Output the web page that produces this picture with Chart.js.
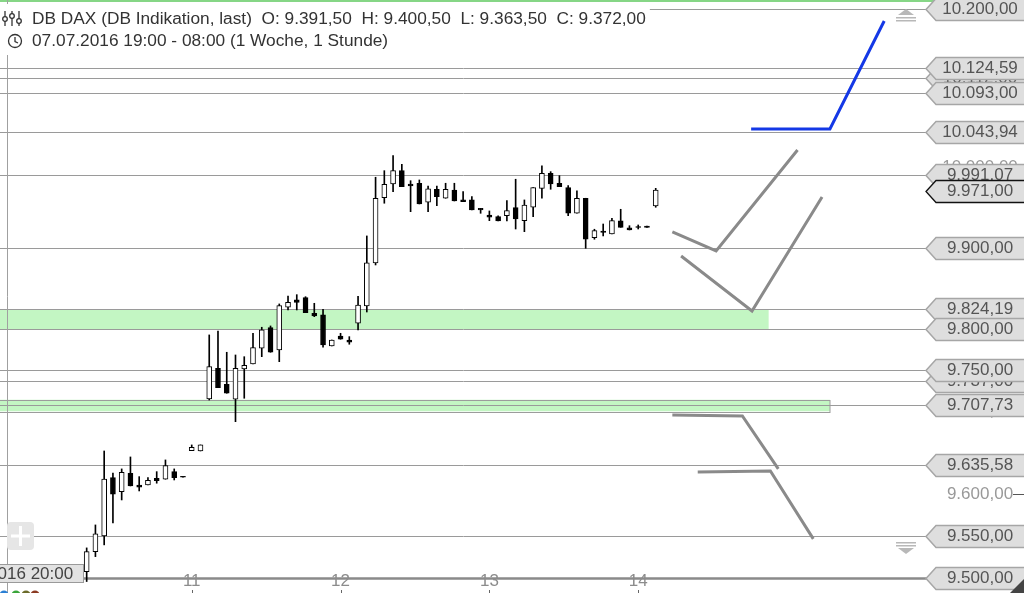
<!DOCTYPE html>
<html lang="de">
<head>
<meta charset="UTF-8">
<title>DB DAX</title>
<script src="https://cdn.jsdelivr.net/npm/chart.js"></script>
<style>
    html, body { margin: 0; padding: 0; background: #fff; }
    #wrap { width: 1024px; height: 593px; }
</style>
</head>
<body>
<div id="wrap"><canvas id="chart" width="1024" height="593"></canvas></div>
<script>
    // hourly candles (one slot per trading hour)
    const opens  = [9507.6, 9531.4, 9550.1, 9619.9, 9603.1, 9625.2, 9611.1, 9611.1, 9619.2, 9618.0, 9627.1, 9621.5, 9652.4, 9652.0,
                    9714.9, 9752.3, 9732.8, 9714.6, 9751.4, 9757.5, 9776.7, 9801.9, 9774.6, 9826.9, 9835.9, 9838.7, 9819.5, 9817.5, 9779.5, 9791.7,
                    9786.8, 9807.3, 9828.5, 9881.5, 9962.4, 9979.5, 9996.1, 9979.5, 9980.4, 9956.7, 9972.9, 9961.7, 9972.0, 9959.6, 9959.6, 9949.2,
                    9940.9, 9938.8, 9940.0, 9950.0, 9933.8, 9950.5, 9974.1, 9992.9, 9980.4, 9974.9, 9943.0, 9961.7, 9912.7, 9921.0, 9917.3, 9933.5,
                    9925.1, 9926.4, 9927.2, 9952.1];
    const highs  = [9535.8, 9563.2, 9652.0, 9625.5, 9630.4, 9644.8, 9621.1, 9619.9, 9627.1, 9641.2, 9630.4, 9621.5, 9659.3, 9659.3,
                    9793.0, 9797.8, 9771.8, 9768.5, 9766.4, 9795.0, 9802.4, 9804.0, 9831.0, 9840.8, 9842.4, 9839.9, 9831.8, 9824.5, 9786.8, 9795.0,
                    9790.9, 9840.2, 9914.9, 9987.9, 9996.1, 10014.9, 10004.1, 9983.6, 9984.5, 9977.0, 9977.0, 9980.4, 9980.4, 9969.9, 9963.7, 9949.2,
                    9945.9, 9940.0, 9958.7, 9985.4, 9959.6, 9974.9, 10002.3, 9994.9, 9989.9, 9977.4, 9971.1, 9961.7, 9923.2, 9929.7, 9936.8, 9948.0,
                    9927.6, 9928.5, 9927.2, 9974.1];
    const lows   = [9495.8, 9525.4, 9539.4, 9565.6, 9593.1, 9609.9, 9603.9, 9611.1, 9613.2, 9618.0, 9617.1, 9620.5, 9652.4, 9652.0,
                    9713.7, 9728.7, 9721.9, 9687.4, 9715.8, 9757.5, 9766.4, 9771.8, 9760.3, 9823.6, 9823.6, 9820.3, 9815.4, 9777.9, 9779.5, 9787.7,
                    9781.6, 9799.1, 9821.1, 9879.0, 9955.5, 9969.9, 9976.1, 9945.0, 9954.6, 9945.0, 9952.5, 9961.7, 9958.3, 9957.5, 9947.1, 9943.0,
                    9933.8, 9933.5, 9933.5, 9923.5, 9920.2, 9938.8, 9961.7, 9972.9, 9976.1, 9940.0, 9943.0, 9899.6, 9910.8, 9914.9, 9917.3, 9925.6,
                    9922.3, 9923.5, 9925.6, 9950.5];
    const closes = [9531.4, 9552.5, 9618.3, 9600.0, 9626.4, 9609.9, 9608.4, 9616.8, 9616.3, 9634.3, 9619.9, 9620.5, 9656.5, 9659.3,
                    9754.2, 9728.7, 9721.9, 9752.3, 9755.9, 9777.4, 9799.1, 9771.8, 9828.9, 9833.0, 9833.0, 9820.3, 9816.2, 9780.7, 9786.8, 9787.7,
                    9784.0, 9829.7, 9881.5, 9961.7, 9979.1, 9996.1, 9976.1, 9977.0, 9954.6, 9973.3, 9963.7, 9972.9, 9958.3, 9957.5, 9947.1, 9947.1,
                    9938.1, 9933.5, 9946.3, 9935.9, 9953.3, 9974.9, 9992.9, 9979.5, 9976.1, 9943.0, 9961.7, 9910.8, 9921.4, 9919.4, 9933.8, 9925.6,
                    9922.3, 9925.6, 9925.6, 9972.0];

    // day labels on the time axis and the slot where each day starts
    const dayLabels = ['11', '12', '13', '14'];
    const daySlots = [12, 29, 46, 63];

    // visible range
    const slotMin = -9.9, slotMax = 95.76;
    const yMin = 9482.2, yMax = 10211.6;

    // horizontal levels drawn across the chart
    const levels = [10200, 10124.59, 10112, 10093, 10043.94, 9991.07, 9900, 9824.19, 9800, 9750, 9737, 9707.73, 9635.58, 9550, 9500];
    // price tags on the right (first two are mostly hidden)
    const tagValues = [10112, 9737, 10200, 10124.59, 10093, 10043.94, 9991.07, 9971, 9900, 9824.19, 9800, 9750, 9707.73, 9635.58, 9550, 9500];
    const lastPrice = 9971;
    // plain axis ticks
    const axisTicks = [10200, 10100, 10000, 9900, 9800, 9700, 9600, 9500];

    // support zones: [low, high, end slot]
    const zones = [[9800, 9824.19, 77.9], [9700, 9714, 84.9]];

    // hand-drawn scenario lines
    const blueX = [75.9, 84.9, 91.1],  blueY = [10048.3, 10048.3, 10184.8];
    const grayAX = [66.9, 71.9, 81.2], grayAY = [9919.8, 9896.3, 10022.0];
    const grayBX = [67.9, 76.0, 84.0], grayBY = [9890.1, 9822.4, 9963.3];
    const grayCX = [66.9, 74.9, 79.0], grayCY = [9695.6, 9694.3, 9630.4];
    const grayDX = [69.8, 78.1, 83.0], grayDY = [9626.8, 9627.9, 9546.5];

    const crossSlot = -9.1;
    const crossLabel = '08.07.2016 20:00';
    const title1 = 'DB DAX (DB Indikation, last)  O: 9.391,50  H: 9.400,50  L: 9.363,50  C: 9.372,00';
    const title2 = '07.07.2016 19:00 - 08:00 (1 Woche, 1 Stunde)';

    const FONT = '17px "Liberation Sans", Arial, sans-serif';
    const HEAD_FONT = '17.3px "Liberation Sans", Arial, sans-serif';

    function fmt(v) {
        let [i, d] = v.toFixed(2).split('.');
        i = i.replace(/\B(?=(\d{3})+(?!\d))/g, '.');
        return i + ',' + d;
    }

    function pts(xs, ys) {
        return xs.map((x, i) => ({ x: x, y: ys[i] }));
    }

    function hline(ctx, x1, x2, y) {
        ctx.beginPath();
        ctx.moveTo(x1, y);
        ctx.lineTo(x2, y);
        ctx.stroke();
    }

    const overlay = {
        id: 'overlay',
        beforeDatasetsDraw(chart) {
            const { ctx, scales: { x, y }, chartArea: a } = chart;
            ctx.save();
            zones.forEach((z, i) => {
                const top = y.getPixelForValue(z[1]);
                const bot = y.getPixelForValue(z[0]);
                const right = x.getPixelForValue(z[2]);
                ctx.fillStyle = '#c3f6c3';
                ctx.fillRect(0, top, right, bot - top);
                if (i === 1) {
                    ctx.strokeStyle = '#9c9c9c';
                    ctx.lineWidth = 1;
                    ctx.strokeRect(-1, Math.round(top) + 0.5, Math.round(right) + 1, Math.round(bot - top));
                }
            });
            // band edge at the very top
            ctx.strokeStyle = '#86d686';
            ctx.lineWidth = 2;
            hline(ctx, 0, a.right + 10, 1);

            levels.forEach(v => {
                const py = Math.round(y.getPixelForValue(v)) + 0.5;
                ctx.strokeStyle = v === 9500 ? '#8a8a8a' : '#9a9a9a';
                ctx.lineWidth = v === 9500 ? 2.5 : 1;
                hline(ctx, 0, a.right + 2, py);
            });

            // crosshair
            const cx = Math.round(x.getPixelForValue(crossSlot)) + 0.5;
            ctx.strokeStyle = '#a0a0a0';
            ctx.lineWidth = 1;
            ctx.beginPath();
            ctx.moveTo(cx, 0);
            ctx.lineTo(cx, 593);
            ctx.stroke();
            ctx.restore();
        },
        afterDatasetsDraw(chart) {
            const { ctx, scales: { x, y }, chartArea: a } = chart;
            ctx.save();
            ctx.textBaseline = 'middle';

            // header
            ctx.font = HEAD_FONT;
            const w1 = ctx.measureText(title1).width;
            ctx.fillStyle = '#fff';
            ctx.fillRect(0, 4, 32 + w1 + 4, 51);
            ctx.fillStyle = '#333';
            ctx.textAlign = 'left';
            ctx.fillText(title1, 32, 19);
            ctx.fillText(title2, 32, 41);
            ctx.font = FONT;
            // indicator icon
            ctx.strokeStyle = '#333';
            ctx.lineWidth = 1.3;
            [[5, 19], [12, 16], [19, 21]].forEach(p => {
                ctx.beginPath();
                ctx.moveTo(p[0], 11);
                ctx.lineTo(p[0], 26);
                ctx.stroke();
                ctx.beginPath();
                ctx.arc(p[0], p[1], 2.3, 0, Math.PI * 2);
                ctx.fillStyle = '#fff';
                ctx.fill();
                ctx.stroke();
            });
            // clock icon
            ctx.beginPath();
            ctx.arc(15, 41, 6.5, 0, Math.PI * 2);
            ctx.stroke();
            ctx.beginPath();
            ctx.moveTo(15, 37);
            ctx.lineTo(15, 41.5);
            ctx.lineTo(18, 43);
            ctx.stroke();

            // time axis labels
            ctx.textAlign = 'center';
            daySlots.forEach((s, i) => {
                const px = x.getPixelForValue(s);
                ctx.fillStyle = '#8c8c8c';
                ctx.fillText(dayLabels[i], px, 581);
                ctx.fillStyle = '#666';
                ctx.fillRect(Math.round(px), 590, 1, 3);
            });

            // plain value ticks
            axisTicks.forEach(v => {
                const py = y.getPixelForValue(v);
                ctx.fillStyle = '#999';
                ctx.fillText(fmt(v), 980, py);
                ctx.strokeStyle = '#555';
                ctx.lineWidth = 1;
                hline(ctx, 1013, 1024, Math.round(py) + 0.5);
            });

            // price tags
            tagValues.forEach(v => {
                const py = Math.round(y.getPixelForValue(v)) + 0.5;
                const tip = a.right + 1;
                ctx.beginPath();
                ctx.moveTo(tip, py);
                ctx.lineTo(tip + 10, py - 11);
                ctx.lineTo(1030, py - 11);
                ctx.lineTo(1030, py + 11);
                ctx.lineTo(tip + 10, py + 11);
                ctx.closePath();
                ctx.fillStyle = '#dedede';
                ctx.fill();
                ctx.strokeStyle = v === lastPrice ? '#111' : '#a6a6a6';
                ctx.lineWidth = v === lastPrice ? 1.3 : 1.5;
                ctx.stroke();
                ctx.fillStyle = '#555';
                ctx.fillText(fmt(v), 980, py);
            });

            // scroll markers
            ctx.fillStyle = '#b8b8b8';
            ctx.beginPath();
            ctx.moveTo(898, 15); ctx.lineTo(906, 9); ctx.lineTo(914, 15); ctx.closePath();
            ctx.fill();
            ctx.fillRect(896, 17, 20, 1.5);
            ctx.fillRect(896, 20, 20, 1.5);
            ctx.fillRect(896, 542, 20, 1.5);
            ctx.fillRect(896, 545, 20, 1.5);
            ctx.beginPath();
            ctx.moveTo(898, 548); ctx.lineTo(906, 554); ctx.lineTo(914, 548); ctx.closePath();
            ctx.fill();

            // pan button
            ctx.fillStyle = '#e6e6e6';
            ctx.beginPath();
            ctx.roundRect(7, 522, 27, 28, 4);
            ctx.fill();
            ctx.fillStyle = '#fff';
            ctx.fillRect(11, 534.5, 19, 3);
            ctx.fillRect(19, 526, 3, 20);

            // crosshair time box
            const cx = x.getPixelForValue(crossSlot);
            ctx.fillStyle = '#e2e2e2';
            ctx.fillRect(cx - 76, 564, 152, 18);
            ctx.strokeStyle = '#9a9a9a';
            ctx.lineWidth = 1;
            ctx.strokeRect(cx - 76 + 0.5, 564.5, 152, 18);
            ctx.fillStyle = '#444';
            ctx.fillText(crossLabel, cx, 574);

            // toolbar remnants at the bottom edge
            [['#2a7fd4', 4], ['#3aa53a', 16], ['#6b6b2a', 26], ['#8b3a22', 35]].forEach(d => {
                ctx.fillStyle = d[0];
                ctx.beginPath();
                ctx.arc(d[1], 595, 4.5, 0, Math.PI * 2);
                ctx.fill();
            });

            // resize grip
            ctx.fillStyle = '#444';
            ctx.beginPath();
            ctx.moveTo(1024, 579); ctx.lineTo(1024, 593); ctx.lineTo(1010, 593); ctx.closePath();
            ctx.fill();
            ctx.restore();
        }
    };

    const slots = opens.map((_, i) => i);
    const scenario = { type: 'line', borderWidth: 3, pointRadius: 0, tension: 0, fill: false, order: 0 };

    new Chart(document.getElementById('chart'), {
        type: 'bar',
        data: {
            datasets: [
                {
                    label: 'wick',
                    data: slots.map(i => ({ x: i, y: [lows[i], highs[i]] })),
                    backgroundColor: '#000',
                    barThickness: 1,
                    grouped: false,
                    order: 3
                },
                {
                    label: 'body',
                    data: slots.map(i => ({ x: i, y: [opens[i], closes[i]] })),
                    backgroundColor: c => closes[c.dataIndex] >= opens[c.dataIndex] ? '#fff' : '#000',
                    borderColor: '#000',
                    borderWidth: 1,
                    borderSkipped: false,
                    barThickness: 5,
                    grouped: false,
                    order: 2
                },
                { ...scenario, label: 'up', data: pts(blueX, blueY), borderColor: '#1438e6' },
                { ...scenario, label: 'a', data: pts(grayAX, grayAY), borderColor: '#8a8a8a' },
                { ...scenario, label: 'b', data: pts(grayBX, grayBY), borderColor: '#8a8a8a' },
                { ...scenario, label: 'c', data: pts(grayCX, grayCY), borderColor: '#8a8a8a' },
                { ...scenario, label: 'd', data: pts(grayDX, grayDY), borderColor: '#8a8a8a' }
            ]
        },
        options: {
            responsive: false,
            animation: false,
            devicePixelRatio: 1,
            layout: { padding: { left: 0, right: 99, top: 0, bottom: 0 } },
            plugins: { legend: { display: false }, tooltip: { enabled: false } },
            scales: {
                x: { type: 'linear', min: slotMin, max: slotMax, offset: false, display: false },
                y: { type: 'logarithmic', min: yMin, max: yMax, display: false }
            }
        },
        plugins: [overlay]
    });
</script>
</body>
</html>
